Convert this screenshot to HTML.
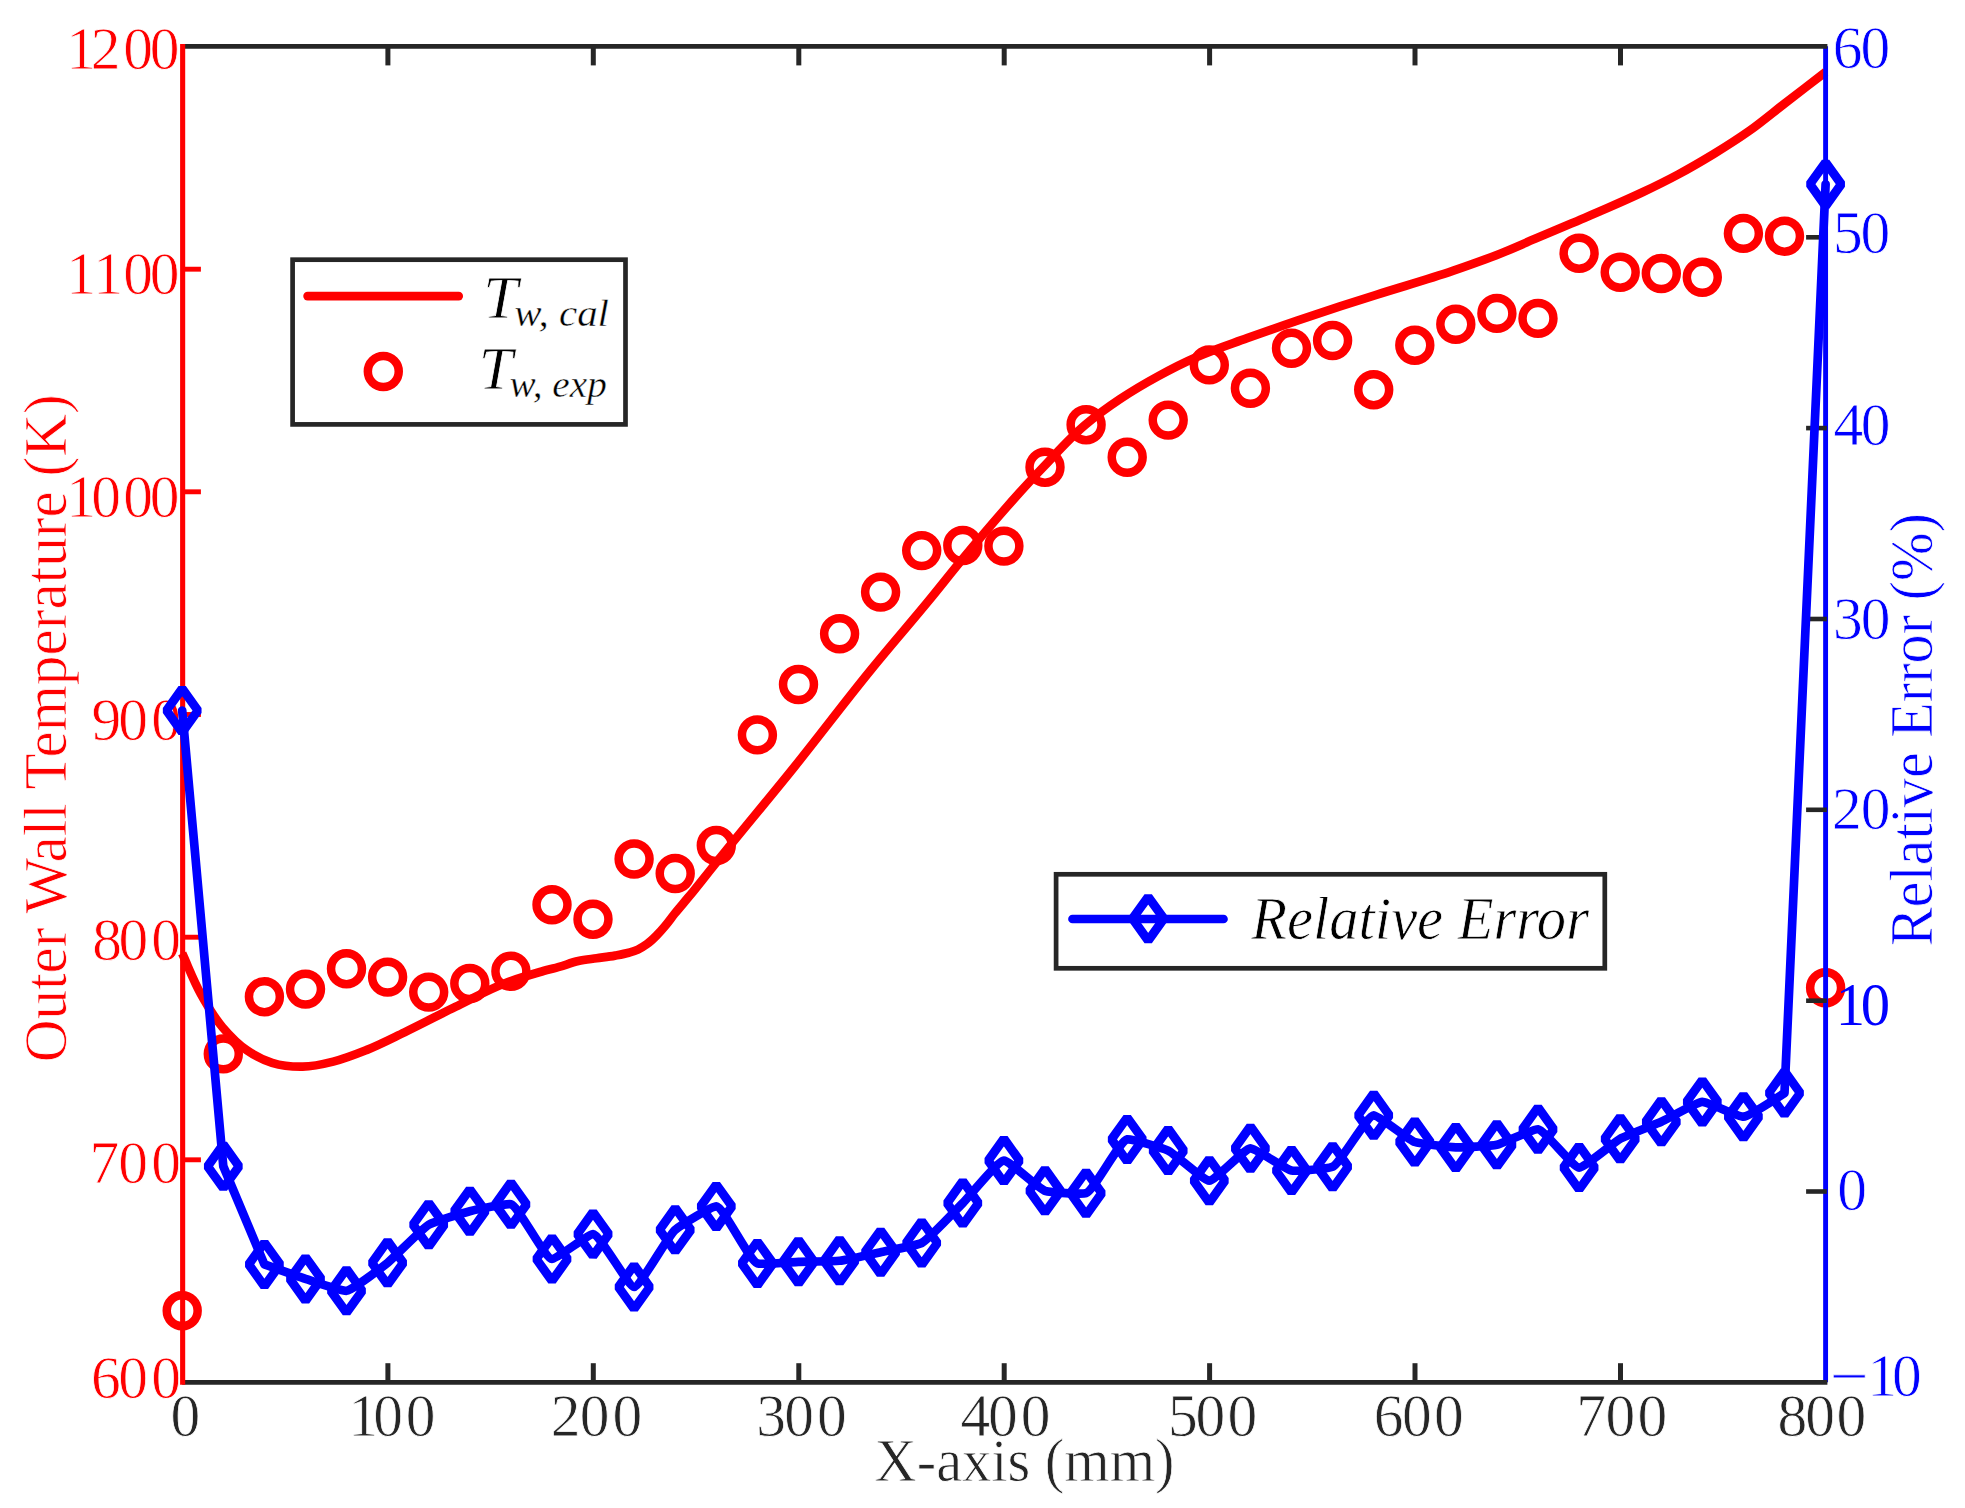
<!DOCTYPE html>
<html lang="en"><head><meta charset="utf-8"><title>Outer wall temperature and relative error</title>
<style>html,body{margin:0;padding:0;background:#fff}svg{display:block}text{font-family:"Liberation Serif",serif;stroke:#fff;stroke-width:0.76px}</style></head><body>
<svg width="1965" height="1508" viewBox="0 0 1965 1508">
<rect width="1965" height="1508" fill="#fff"/>
<g fill="none" stroke="#ff0000" stroke-width="8.7" stroke-linecap="butt" stroke-linejoin="round">
<path d="M182.2 953.4C188.4 967 193.6 981.1 200.9 994.1C207.3 1005.6 214 1017.2 222.5 1027.2C229.7 1035.6 237.6 1043.9 246.7 1050.1C254.4 1055.4 263.2 1060 272.1 1062.8C281.8 1065.8 292.5 1066.9 302.7 1066.7C312.9 1066.5 323.2 1064.1 333.2 1061.6C344.5 1058.8 355.5 1054.4 366.3 1050.1C379.3 1044.9 391.8 1038.4 404.5 1032.3C421.6 1024.1 438.3 1015.2 455.3 1006.9C472.2 998.7 488.7 989.3 506.2 982.7C517.2 978.6 528.6 975.3 540 972C546.6 970.1 553.4 968.5 560 966.6C566.1 964.8 572.1 962.5 578.3 961.1C584.3 959.8 590.5 959.2 596.6 958.3C602.7 957.4 608.9 956.7 615 955.6C619.6 954.8 624.2 954.1 628.7 952.8C631.8 951.9 635 951 637.9 949.6C641.1 948.1 644.1 946.2 647 944.1C650.3 941.7 653.3 938.8 656.2 935.9C659.4 932.7 662.4 929.3 665.3 925.8C668.5 922 671.4 917.8 674.5 913.9C677.5 910.2 680.6 906.6 683.7 902.9C686.7 899.2 689.8 895.6 692.8 891.9C695.9 888.1 698.9 884.3 702 880.5C707.4 873.8 712.7 867 718.1 860.3C743.3 828.9 769.3 798.1 794.5 766.7C820.2 734.7 844.9 701.8 870.8 670C890 646.4 910 623.5 929.3 600C940.3 586.6 951 572.9 962.1 559.5C988.4 527.8 1015.1 496.4 1043.6 466.7C1057.3 452.4 1070.4 437.4 1085.5 424.7C1096.4 415.5 1108.1 407.1 1119.9 399.2C1132.2 391 1145.1 383.4 1158.1 376.3C1170.5 369.5 1183.2 363 1196.2 357.3C1212.7 350 1230.1 344.4 1247.1 338.2C1264 332.1 1281 326.2 1298 320.4C1312 315.6 1326 311 1340 306.4C1352.1 302.5 1364.2 298.6 1376.3 294.8C1401.7 286.7 1427.5 279.6 1452.7 270.9C1468.6 265.4 1484.4 259.9 1500 253.7C1512 248.9 1523.7 243.6 1535.6 238.6C1547.5 233.6 1559.3 228.5 1571.2 223.5C1583.1 218.4 1595.1 213.5 1606.9 208.3C1618.8 203.1 1630.7 197.9 1642.5 192.3C1654.5 186.6 1666.4 180.8 1678.1 174.5C1690.2 168 1702 161.1 1713.7 154C1725.8 146.6 1737.8 139 1749.4 130.8C1761.6 122.1 1773.1 112.4 1785 103.2C1798.5 92.8 1812.1 82.4 1825.6 72"/>
</g>
<g fill="none" stroke="#ff0000" stroke-width="8.5">
<circle cx="182.2" cy="1310.7" r="15.45"/>
<circle cx="223.3" cy="1053.9" r="15.45"/>
<circle cx="264.4" cy="996.7" r="15.45"/>
<circle cx="305.5" cy="989.1" r="15.45"/>
<circle cx="346.5" cy="968.7" r="15.45"/>
<circle cx="387.6" cy="977.1" r="15.45"/>
<circle cx="428.7" cy="992.1" r="15.45"/>
<circle cx="469.8" cy="983.5" r="15.45"/>
<circle cx="510.9" cy="971.2" r="15.45"/>
<circle cx="552" cy="904.8" r="15.45"/>
<circle cx="593" cy="919.2" r="15.45"/>
<circle cx="634.1" cy="859" r="15.45"/>
<circle cx="675.2" cy="873.5" r="15.45"/>
<circle cx="716.3" cy="845.5" r="15.45"/>
<circle cx="757.4" cy="734.9" r="15.45"/>
<circle cx="798.5" cy="684.5" r="15.45"/>
<circle cx="839.6" cy="633.8" r="15.45"/>
<circle cx="880.6" cy="592.1" r="15.45"/>
<circle cx="921.7" cy="550.6" r="15.45"/>
<circle cx="962.8" cy="545.5" r="15.45"/>
<circle cx="1003.9" cy="546.1" r="15.45"/>
<circle cx="1045" cy="467.2" r="15.45"/>
<circle cx="1086.1" cy="424.7" r="15.45"/>
<circle cx="1127.2" cy="457.3" r="15.45"/>
<circle cx="1168.2" cy="420.1" r="15.45"/>
<circle cx="1209.3" cy="364.9" r="15.45"/>
<circle cx="1250.4" cy="388.3" r="15.45"/>
<circle cx="1291.5" cy="348.3" r="15.45"/>
<circle cx="1332.6" cy="340.5" r="15.45"/>
<circle cx="1373.7" cy="389.7" r="15.45"/>
<circle cx="1414.8" cy="345.2" r="15.45"/>
<circle cx="1455.8" cy="324.3" r="15.45"/>
<circle cx="1496.9" cy="313.4" r="15.45"/>
<circle cx="1538" cy="318.4" r="15.45"/>
<circle cx="1579.1" cy="253.2" r="15.45"/>
<circle cx="1620.2" cy="272.2" r="15.45"/>
<circle cx="1661.3" cy="273.5" r="15.45"/>
<circle cx="1702.3" cy="277.3" r="15.45"/>
<circle cx="1743.4" cy="233.4" r="15.45"/>
<circle cx="1784.5" cy="236.2" r="15.45"/>
<circle cx="1825.6" cy="987.7" r="15.45"/>
</g>
<path d="M1825.6 46.2V1382.2" stroke="#0000ff" stroke-width="4.9" fill="none"/>
<g stroke="#262626" stroke-linecap="butt" fill="none">
<path d="M1826.8 237.3H1806.1" stroke-width="4.6"/>
<path d="M1826.8 428.1H1806.1" stroke-width="4.6"/>
<path d="M1826.8 619H1806.1" stroke-width="4.6"/>
<path d="M1826.8 809.8H1806.1" stroke-width="4.6"/>
<path d="M1826.8 1000.7H1806.1" stroke-width="4.6"/>
<path d="M1826.8 1191.5H1806.1" stroke-width="4.6"/>
<path d="M387.9 46.2V65.4" stroke-width="5"/>
<path d="M387.9 1382.2V1363.2" stroke-width="5"/>
<path d="M593.3 46.2V65.4" stroke-width="5"/>
<path d="M593.3 1382.2V1363.2" stroke-width="5"/>
<path d="M798.8 46.2V65.4" stroke-width="5"/>
<path d="M798.8 1382.2V1363.2" stroke-width="5"/>
<path d="M1004.2 46.2V65.4" stroke-width="5"/>
<path d="M1004.2 1382.2V1363.2" stroke-width="5"/>
<path d="M1209.6 46.2V65.4" stroke-width="5"/>
<path d="M1209.6 1382.2V1363.2" stroke-width="5"/>
<path d="M1415 46.2V65.4" stroke-width="5"/>
<path d="M1415 1382.2V1363.2" stroke-width="5"/>
<path d="M1620.5 46.2V65.4" stroke-width="5"/>
<path d="M1620.5 1382.2V1363.2" stroke-width="5"/>
<path d="M182.2 46.4H1827.4" stroke-width="4.6"/>
<path d="M182.2 1382.4H1827.4" stroke-width="4.6"/>
</g>
<g stroke="#ff0000" fill="none">
<path d="M182.65 43.9V1384.8" stroke-width="5.1"/>
<path d="M182.2 269.2H200.9" stroke-width="4.9"/>
<path d="M182.2 491.8H200.9" stroke-width="4.9"/>
<path d="M182.2 714.5H200.9" stroke-width="4.9"/>
<path d="M182.2 937.2H200.9" stroke-width="4.9"/>
<path d="M182.2 1159.8H200.9" stroke-width="4.9"/>
</g>
<text transform="translate(0 1435.70) scale(0.9560 1)" x="178.25" font-size="62.2" fill="#262626">0</text>
<text transform="translate(0 1435.70) scale(0.9560 1)" x="364.47 390.38 424.48" font-size="62.2" fill="#262626">100</text>
<text transform="translate(0 1435.70) scale(0.9560 1)" x="576.21 606.49 640.59" font-size="62.2" fill="#262626">200</text>
<text transform="translate(0 1435.70) scale(0.9560 1)" x="791.12 820.40 854.51" font-size="62.2" fill="#262626">300</text>
<text transform="translate(0 1435.70) scale(0.9560 1)" x="1004.65 1033.48 1067.79" font-size="62.2" fill="#262626">400</text>
<text transform="translate(0 1435.70) scale(0.9560 1)" x="1221.67 1250.43 1283.90" font-size="62.2" fill="#262626">500</text>
<text transform="translate(0 1435.70) scale(0.9560 1)" x="1437.04 1466.53 1500.11" font-size="62.2" fill="#262626">600</text>
<text transform="translate(0 1435.70) scale(0.9560 1)" x="1648.82 1679.51 1712.98" font-size="62.2" fill="#262626">700</text>
<text transform="translate(0 1435.70) scale(0.9560 1)" x="1859.21 1888.29 1920.93" font-size="62.2" fill="#262626">800</text>
<text transform="translate(874.52 1481.28) scale(0.9574 1)" font-size="61" fill="#262626">X-axis (mm)</text>
<text transform="translate(0 68.70) scale(0.9560 1)" x="69.39 94.94 128.88 156.60" font-size="62.2" fill="#ff0000">1200</text>
<text transform="translate(0 293.70) scale(0.9560 1)" x="69.39 97.63 128.88 156.60" font-size="62.2" fill="#ff0000">1100</text>
<text transform="translate(0 516.70) scale(0.9560 1)" x="69.39 95.40 128.88 156.60" font-size="62.2" fill="#ff0000">1000</text>
<text transform="translate(0 739.70) scale(0.9560 1)" x="95.72 123.75 158.17" font-size="62.2" fill="#ff0000">900</text>
<text transform="translate(0 960.40) scale(0.9560 1)" x="96.45 124.07 158.17" font-size="62.2" fill="#ff0000">800</text>
<text transform="translate(0 1182.60) scale(0.9560 1)" x="93.69 123.75 158.17" font-size="62.2" fill="#ff0000">700</text>
<text transform="translate(0 1397.50) scale(0.9560 1)" x="95.09 123.75 158.17" font-size="62.2" fill="#ff0000">600</text>
<text transform="translate(65.78 1062.24) rotate(-90) scale(0.9710 1)" font-size="61" fill="#ff0000">Outer Wall Temperature (K)</text>
<text transform="translate(0 67.50) scale(0.9560 1)" x="1917.16 1946.24" font-size="62.2" fill="#0000ff">60</text>
<text transform="translate(0 252.60) scale(0.9560 1)" x="1917.38 1946.24" font-size="62.2" fill="#0000ff">50</text>
<text transform="translate(0 444.70) scale(0.9560 1)" x="1917.83 1946.45" font-size="62.2" fill="#0000ff">40</text>
<text transform="translate(0 638.60) scale(0.9560 1)" x="1917.38 1946.45" font-size="62.2" fill="#0000ff">30</text>
<text transform="translate(0 828.80) scale(0.9560 1)" x="1916.28 1946.45" font-size="62.2" fill="#0000ff">20</text>
<text transform="translate(0 1024.70) scale(0.9560 1)" x="1920.36 1946.44" font-size="61.4" fill="#0000ff" style="stroke:none">10</text>
<text transform="translate(0 1209.70) scale(0.9560 1)" x="1921.76" font-size="62.2" fill="#0000ff">0</text>
<text transform="translate(1829.83 1396.60) scale(1.1078 1)" font-size="62.2" fill="#0000ff">−</text>
<text transform="translate(0 1396.00) scale(0.9560 1)" x="1953.38 1979.09" font-size="62.2" fill="#0000ff">10</text>
<text transform="translate(1932.28 946.21) rotate(-90) scale(0.9544 1)" font-size="61" fill="#0000ff">Relative Error (%)</text>
<g fill="none" stroke="#0000ff" stroke-width="8.7" stroke-linecap="round" stroke-linejoin="round">
<path d="M182.2 710.5L223.3 1166.3L264.4 1264.4C264.4 1264.4 299.9 1277.1 305.5 1278.9C310.9 1280.6 341.4 1291.4 346.5 1290.8C352.5 1290.1 382.4 1266.9 387.6 1262.8C393.5 1258.2 422.3 1228.2 428.7 1224.7C433.6 1222 464.2 1212.6 469.8 1211.2C475.2 1209.9 506.2 1203.2 510.9 1204.3C518.5 1206.1 545.1 1258.8 552 1259C556.8 1259.2 588.2 1233.9 593 1234.1C599.8 1234.4 628.8 1286.9 634.1 1287C639.8 1287.1 668.1 1235.6 675.2 1229.8C680 1225.9 711.5 1206.2 716.3 1206.4C723.4 1206.7 749.5 1260.8 757.4 1263.4C762 1264.9 793 1262 798.5 1261.8C804 1261.6 834.1 1261.4 839.6 1260.8C845.1 1260.2 875.2 1253.4 880.6 1252.2C886.1 1251 916.9 1245.4 921.7 1243C928.3 1239.8 957.4 1208.5 962.8 1203.1C968.4 1197.5 998 1160.7 1003.9 1160.6C1009 1160.5 1038.8 1188.8 1045 1190.8C1050 1192.4 1081.4 1194.6 1086.1 1193.2C1093.7 1190.8 1119.7 1140.7 1127.2 1139.4C1131.8 1138.6 1163.2 1148.3 1168.2 1150.6C1174.3 1153.4 1203.9 1180.7 1209.3 1180.7C1214.9 1180.7 1244.6 1148.6 1250.4 1148.3C1255.6 1148 1285.6 1169.4 1291.5 1170.5C1296.7 1171.5 1327.9 1168.7 1332.6 1166.7C1340.1 1163.6 1367.1 1115.5 1373.7 1115.3C1378.5 1115.2 1408.7 1139.9 1414.8 1142C1419.8 1143.8 1450.3 1147.2 1455.8 1147.4C1461.3 1147.6 1491.6 1145.9 1496.9 1144.8C1502.6 1143.6 1533.1 1128.7 1538 1129.3C1544.3 1130.1 1573.3 1167.5 1579.1 1167.6C1584.3 1167.7 1614.3 1142 1620.2 1138.8C1625.4 1136 1655.9 1124.2 1661.3 1121.8C1666.8 1119.3 1696.7 1102.1 1702.3 1101.9C1707.7 1101.7 1738.2 1117.1 1743.4 1116.7C1749.2 1116.3 1784.5 1093 1784.5 1093L1825.6 184.2"/>
</g>
<g fill="none" stroke="#0000ff" stroke-width="9" stroke-linejoin="bevel">
<path d="M182.2 688.6L197.9 710.5L182.2 732.4L166.5 710.5Z"/>
<path d="M223.3 1144.4L239 1166.3L223.3 1188.2L207.6 1166.3Z"/>
<path d="M264.4 1242.5L280.1 1264.4L264.4 1286.3L248.7 1264.4Z"/>
<path d="M305.5 1257L321.2 1278.9L305.5 1300.8L289.8 1278.9Z"/>
<path d="M346.5 1268.9L362.2 1290.8L346.5 1312.7L330.8 1290.8Z"/>
<path d="M387.6 1240.9L403.3 1262.8L387.6 1284.7L371.9 1262.8Z"/>
<path d="M428.7 1202.8L444.4 1224.7L428.7 1246.6L413 1224.7Z"/>
<path d="M469.8 1189.3L485.5 1211.2L469.8 1233.1L454.1 1211.2Z"/>
<path d="M510.9 1182.4L526.6 1204.3L510.9 1226.2L495.2 1204.3Z"/>
<path d="M552 1237.1L567.7 1259L552 1280.9L536.3 1259Z"/>
<path d="M593 1212.2L608.8 1234.1L593 1256L577.3 1234.1Z"/>
<path d="M634.1 1265.1L649.8 1287L634.1 1308.9L618.4 1287Z"/>
<path d="M675.2 1207.9L690.9 1229.8L675.2 1251.7L659.5 1229.8Z"/>
<path d="M716.3 1184.5L732 1206.4L716.3 1228.3L700.6 1206.4Z"/>
<path d="M757.4 1241.5L773.1 1263.4L757.4 1285.3L741.7 1263.4Z"/>
<path d="M798.5 1239.9L814.2 1261.8L798.5 1283.7L782.8 1261.8Z"/>
<path d="M839.6 1238.9L855.3 1260.8L839.6 1282.7L823.9 1260.8Z"/>
<path d="M880.6 1230.3L896.3 1252.2L880.6 1274.1L864.9 1252.2Z"/>
<path d="M921.7 1221.1L937.4 1243L921.7 1264.9L906 1243Z"/>
<path d="M962.8 1181.2L978.5 1203.1L962.8 1225L947.1 1203.1Z"/>
<path d="M1003.9 1138.7L1019.6 1160.6L1003.9 1182.5L988.2 1160.6Z"/>
<path d="M1045 1168.9L1060.7 1190.8L1045 1212.7L1029.3 1190.8Z"/>
<path d="M1086.1 1171.3L1101.8 1193.2L1086.1 1215.1L1070.4 1193.2Z"/>
<path d="M1127.2 1117.5L1142.9 1139.4L1127.2 1161.3L1111.5 1139.4Z"/>
<path d="M1168.2 1128.7L1183.9 1150.6L1168.2 1172.5L1152.5 1150.6Z"/>
<path d="M1209.3 1158.8L1225 1180.7L1209.3 1202.6L1193.6 1180.7Z"/>
<path d="M1250.4 1126.4L1266.1 1148.3L1250.4 1170.2L1234.7 1148.3Z"/>
<path d="M1291.5 1148.6L1307.2 1170.5L1291.5 1192.4L1275.8 1170.5Z"/>
<path d="M1332.6 1144.8L1348.3 1166.7L1332.6 1188.6L1316.9 1166.7Z"/>
<path d="M1373.7 1093.4L1389.4 1115.3L1373.7 1137.2L1358 1115.3Z"/>
<path d="M1414.8 1120.1L1430.5 1142L1414.8 1163.9L1399 1142Z"/>
<path d="M1455.8 1125.5L1471.5 1147.4L1455.8 1169.3L1440.1 1147.4Z"/>
<path d="M1496.9 1122.9L1512.6 1144.8L1496.9 1166.7L1481.2 1144.8Z"/>
<path d="M1538 1107.4L1553.7 1129.3L1538 1151.2L1522.3 1129.3Z"/>
<path d="M1579.1 1145.7L1594.8 1167.6L1579.1 1189.5L1563.4 1167.6Z"/>
<path d="M1620.2 1116.9L1635.9 1138.8L1620.2 1160.7L1604.5 1138.8Z"/>
<path d="M1661.3 1099.9L1677 1121.8L1661.3 1143.7L1645.6 1121.8Z"/>
<path d="M1702.3 1080L1718 1101.9L1702.3 1123.8L1686.6 1101.9Z"/>
<path d="M1743.4 1094.8L1759.1 1116.7L1743.4 1138.6L1727.7 1116.7Z"/>
<path d="M1784.5 1071.1L1800.2 1093L1784.5 1114.9L1768.8 1093Z"/>
<path d="M1825.6 162.3L1841.3 184.2L1825.6 206.1L1809.9 184.2Z"/>
</g>
<rect x="292.6" y="259.7" width="332.9" height="164.7" fill="#fff" stroke="#262626" stroke-width="4.7"/>
<path d="M307.6 296.1H458.7" stroke="#ff0000" stroke-width="8.7" stroke-linecap="round" fill="none"/>
<circle cx="383.3" cy="371.5" r="15.45" fill="none" stroke="#ff0000" stroke-width="8.5"/>
<text transform="translate(483.17 318.38) scale(0.9999 1)" font-size="62.3" fill="#000" font-style="italic">T</text>
<text transform="translate(514.27 325.60) scale(1.0523 1)" font-size="38.9" fill="#000" font-style="italic" style="stroke-width:0.4px">w, cal</text>
<text transform="translate(478.75 389.18) scale(0.9819 1)" font-size="62.3" fill="#000" font-style="italic">T</text>
<text transform="translate(509.52 396.60) scale(1.0082 1)" font-size="38.9" fill="#000" font-style="italic" style="stroke-width:0.4px">w, exp</text>
<rect x="1056.1" y="874.3" width="548.7" height="94" fill="#fff" stroke="#262626" stroke-width="4.7"/>
<path d="M1072.5 919H1223.5" stroke="#0000ff" stroke-width="8.7" stroke-linecap="round" fill="none"/>
<path d="M1148.2 896.8L1163.9 918.7L1148.2 940.6L1132.5 918.7Z" fill="none" stroke="#0000ff" stroke-width="9" stroke-linejoin="bevel"/>
<text transform="translate(1251.33 938.88) scale(0.9520 1)" font-size="61.5" fill="#000" font-style="italic">Relative Error</text>
</svg></body></html>
